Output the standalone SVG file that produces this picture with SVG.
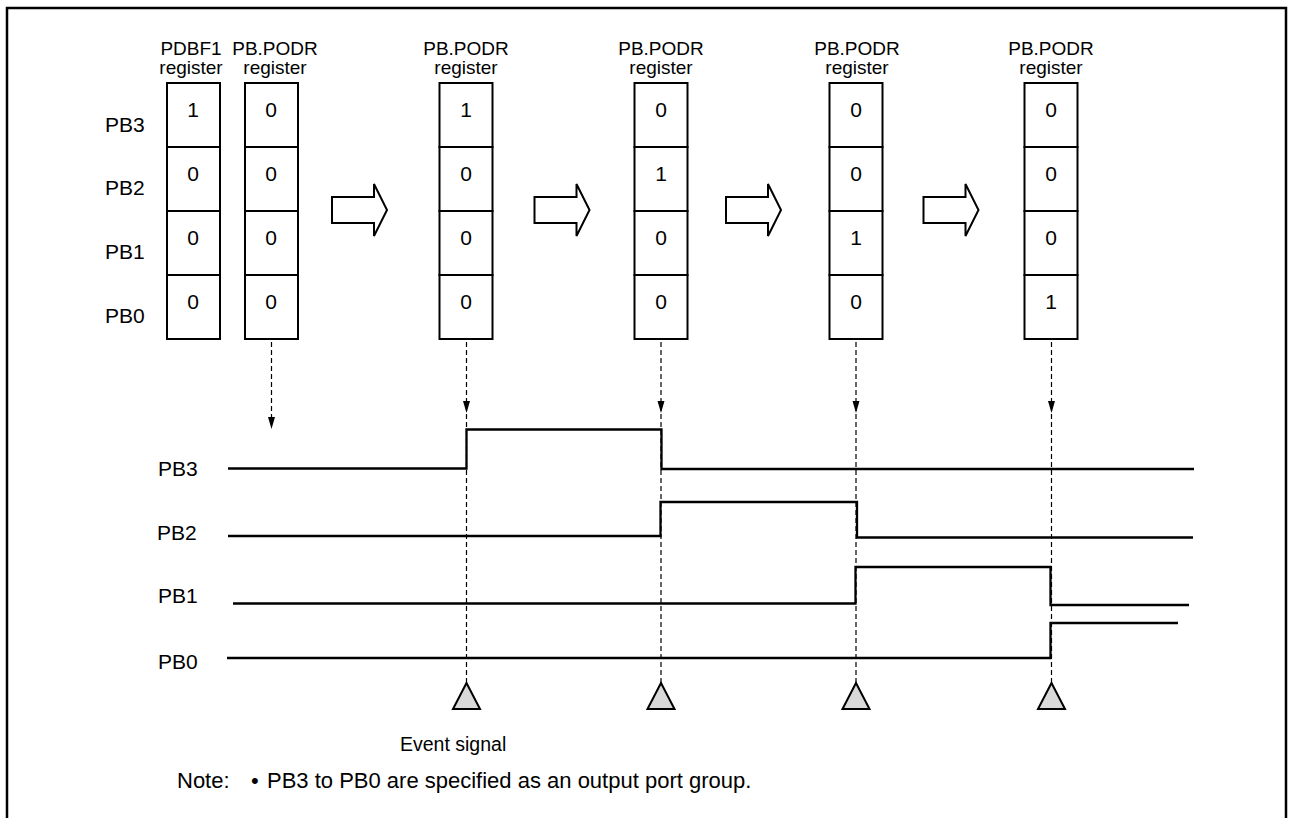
<svg xmlns="http://www.w3.org/2000/svg" width="1290" height="818" viewBox="0 0 1290 818">
<style>
text{font-family:"Liberation Sans",Arial,sans-serif;fill:#000}
.hd{font-size:19px;text-anchor:middle}
.dg{font-size:21px;text-anchor:middle}
.lb{font-size:21px}
.cell{fill:#fff;stroke:#000;stroke-width:2}
.big{fill:#fff;stroke:#000;stroke-width:2;stroke-linejoin:miter}
.wave{fill:none;stroke:#000;stroke-width:2.3}
.dash{fill:none;stroke:#000;stroke-width:1.2;stroke-dasharray:5 3}
.tri{fill:#d9d9d9;stroke:#000;stroke-width:2;stroke-linejoin:miter}
.ah{fill:#000}
.nt{font-size:22px}
</style>
<defs>
<g id="cellcol">
<rect class="cell" x="0" y="83" width="53" height="64"/>
<rect class="cell" x="0" y="147" width="53" height="64"/>
<rect class="cell" x="0" y="211" width="53" height="64"/>
<rect class="cell" x="0" y="275" width="53" height="64"/>
</g>
<path id="bigarrow" class="big" d="M0,197 H42 V184 L55,210 L42,236 V223 H0 Z"/>
</defs>
<path d="M7,818 V8 H1286 V818" fill="none" stroke="#000" stroke-width="2.5"/>
<g id="row-labels">
<text class="lb" x="105" y="132">PB3</text>
<text class="lb" x="105" y="195">PB2</text>
<text class="lb" x="105" y="259">PB1</text>
<text class="lb" x="105" y="323">PB0</text>
</g>
<g id="reg-pdbf1">
<text class="hd" x="191" y="55">PDBF1</text>
<text class="hd" x="191" y="74">register</text>
<use href="#cellcol" x="167"/>
<text class="dg" x="193" y="117">1</text>
<text class="dg" x="193" y="181">0</text>
<text class="dg" x="193" y="245">0</text>
<text class="dg" x="193" y="309">0</text>
</g>
<g id="reg-podr-0">
<text class="hd" x="275" y="55">PB.PODR</text>
<text class="hd" x="275" y="74">register</text>
<use href="#cellcol" x="245"/>
<text class="dg" x="271" y="117">0</text>
<text class="dg" x="271" y="181">0</text>
<text class="dg" x="271" y="245">0</text>
<text class="dg" x="271" y="309">0</text>
</g>
<g id="reg-podr-1">
<text class="hd" x="466" y="55">PB.PODR</text>
<text class="hd" x="466" y="74">register</text>
<use href="#cellcol" x="439.5"/>
<text class="dg" x="466" y="117">1</text>
<text class="dg" x="466" y="181">0</text>
<text class="dg" x="466" y="245">0</text>
<text class="dg" x="466" y="309">0</text>
</g>
<g id="reg-podr-2">
<text class="hd" x="661" y="55">PB.PODR</text>
<text class="hd" x="661" y="74">register</text>
<use href="#cellcol" x="634.5"/>
<text class="dg" x="661" y="117">0</text>
<text class="dg" x="661" y="181">1</text>
<text class="dg" x="661" y="245">0</text>
<text class="dg" x="661" y="309">0</text>
</g>
<g id="reg-podr-3">
<text class="hd" x="857" y="55">PB.PODR</text>
<text class="hd" x="857" y="74">register</text>
<use href="#cellcol" x="829.5"/>
<text class="dg" x="856" y="117">0</text>
<text class="dg" x="856" y="181">0</text>
<text class="dg" x="856" y="245">1</text>
<text class="dg" x="856" y="309">0</text>
</g>
<g id="reg-podr-4">
<text class="hd" x="1051" y="55">PB.PODR</text>
<text class="hd" x="1051" y="74">register</text>
<use href="#cellcol" x="1024.5"/>
<text class="dg" x="1051" y="117">0</text>
<text class="dg" x="1051" y="181">0</text>
<text class="dg" x="1051" y="245">0</text>
<text class="dg" x="1051" y="309">1</text>
</g>
<g id="step-arrows">
<use href="#bigarrow" x="332"/>
<use href="#bigarrow" x="534.5"/>
<use href="#bigarrow" x="726"/>
<use href="#bigarrow" x="923.5"/>
</g>
<g id="connectors">
<path class="dash" d="M271.5,342 V418"/>
<path class="ah" d="M268,417 L275,417 L271.5,429 Z"/>
<path class="dash" d="M466.5,342 V683"/>
<path class="ah" d="M463,401 L470,401 L466.5,413 Z"/>
<path class="dash" d="M661,342 V683"/>
<path class="ah" d="M657.5,401 L664.5,401 L661,413 Z"/>
<path class="dash" d="M856,342 V683"/>
<path class="ah" d="M852.5,401 L859.5,401 L856,413 Z"/>
<path class="dash" d="M1051.5,342 V683"/>
<path class="ah" d="M1048,401 L1055,401 L1051.5,413 Z"/>
</g>
<g id="waveforms">
<text class="lb" x="158" y="476">PB3</text>
<text class="lb" x="157" y="540">PB2</text>
<text class="lb" x="158" y="603">PB1</text>
<text class="lb" x="158" y="669">PB0</text>
<path class="wave" d="M228,468.5 H466.5 V429.5 H661.5 V469 H1194"/>
<path class="wave" d="M228,536 H660.5 V502 H857 V537.5 H1193"/>
<path class="wave" d="M233,603.5 H855.5 V567 H1050.5 V605 H1189"/>
<path class="wave" d="M227,658 H1050.5 V623 H1178"/>
</g>
<g id="events">
<path class="tri" d="M466.5,683 L480,709 L453,709 Z"/>
<path class="tri" d="M661,683 L674.5,709 L647.5,709 Z"/>
<path class="tri" d="M856,683 L869.5,709 L842.5,709 Z"/>
<path class="tri" d="M1051.5,683 L1065,709 L1038,709 Z"/>
<text x="400" y="751" style="font-size:19.5px">Event signal</text>
</g>
<g id="note">
<text class="nt" x="177" y="788">Note:</text>
<text class="nt" x="251" y="788">•</text>
<text class="nt" x="267" y="788">PB3 to PB0 are specified as an output port group.</text>
</g>
</svg>
